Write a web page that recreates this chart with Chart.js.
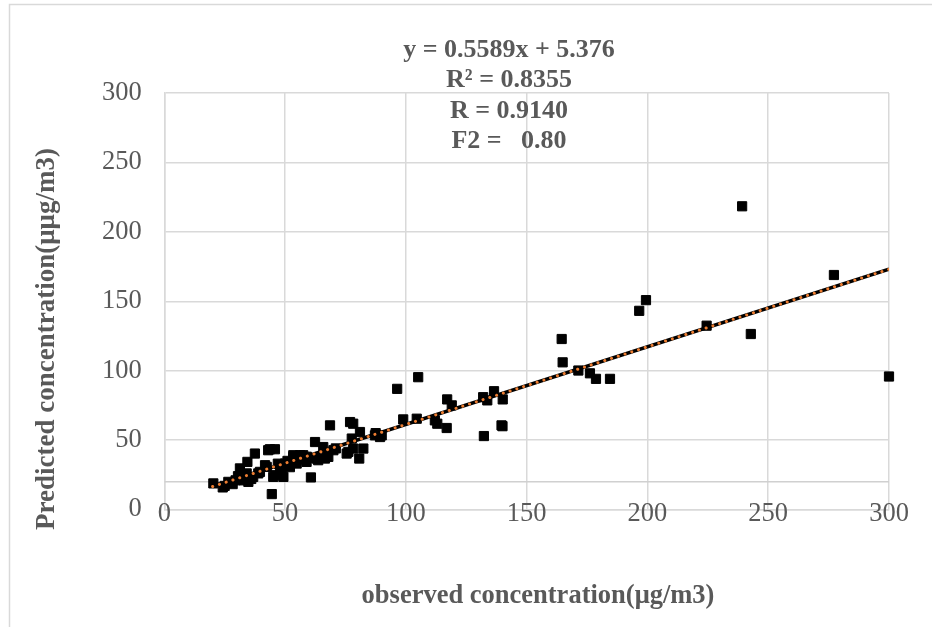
<!DOCTYPE html>
<html>
<head>
<meta charset="utf-8">
<script src="https://cdn.jsdelivr.net/npm/chart.js"></script>
<style>
  html, body { margin: 0; padding: 0; background: #fff; }
  #wrap { width: 932px; height: 627px; }
</style>
</head>
<body>
<div id="wrap"><canvas id="myChart" width="932" height="627"></canvas></div>
<script>
// observed vs predicted values
const observed = [
  20.3, 24.2, 25, 26.5, 28.3, 29.5, 30.5, 31.3, 32, 33,
  34.4, 34.8, 34.1, 36, 36.8, 37.5, 38.9, 39.6, 41.7, 42.4,
  43, 43.7, 44.5, 45.1, 45.8, 45.8, 47, 47.9, 48.6, 49.3,
  50, 51, 52, 53.4, 53.4, 54.8, 55.5, 56.2, 57.5, 58.9,
  59, 60.7, 61.5, 62.4, 63.1, 63.7, 65.8, 66.5, 67.2, 67.9,
  68.6, 70, 71, 75.5, 76.2, 76.9, 78.2, 77.6, 78.2, 80.7,
  81, 82.4, 87.2, 87.5, 89.3, 90, 96.4, 98.9, 104.5, 105.1,
  112, 113, 116.9, 117.1, 119, 132, 132.3, 133.7, 136.5, 139.6,
  140, 140.1, 164.5, 164.9, 171.4, 176.2, 178.7, 184.5, 196.6, 199.4,
  224.5, 239.2, 242.8, 277.2, 300
];
const predicted = [
  18.8, 15.9, 17, 19.9, 18.3, 21, 24, 29.6, 24.7, 21,
  34.3, 19.9, 26, 22, 23.5, 40.3, 26, 27.1, 31.9, 30.7,
  42.7, 43.4, 11.1, 23.5, 24.7, 43.4, 33, 29.6, 28.3, 23.5,
  33.1, 35, 30.5, 39.1, 37.9, 33.1, 36, 39.1, 39.1, 34.3,
  38, 23.1, 37, 48.6, 36.7, 35.5, 45, 36.7, 40.3, 37.9,
  60.6, 42.7, 44, 40.3, 41.5, 63, 61.8, 51.1, 43.9, 36.7,
  55.8, 43.9, 53.4, 55, 52.2, 53.4, 86.9, 64.9, 65.4, 95.3,
  64.2, 61.8, 58.7, 79.3, 75, 80.9, 52.9, 78.6, 85.2, 60.6,
  60, 79.3, 122.8, 106, 100.1, 98.1, 94.1, 94.1, 143.1, 150.8,
  132.4, 218.4, 126.4, 168.9, 95.8
];

const xRange = [0, 300];
const yRange = [0, 300];
const tickStep = 50;
const axisCrossY = 20;

const slope = 0.5589;
const intercept = 5.376;
const trendFrom = 20;
const trendTo = 300;

const statLines = ["y = 0.5589x + 5.376", "R\u00B2 = 0.8355", "R = 0.9140", "F2 =   0.80"];
const xTitle = "observed concentration(\u03BCg/m3)";
const yTitle = "Predicted concentration(\u03BC\u03BCg/m3)";

const ctx = document.getElementById('myChart');

let points = [];
observed.forEach((v, i) => {
  points.push({ x: v, y: predicted[i] });
});

let trend = [
  { x: trendFrom, y: slope * trendFrom + intercept },
  { x: trendTo, y: slope * trendTo + intercept }
];

let crossLine = [
  { x: xRange[0], y: axisCrossY },
  { x: xRange[1], y: axisCrossY }
];

const gridColor = '#d9d9d9';
const textColor = '#595959';
const serif = "'Times New Roman', 'Liberation Serif', serif";

// titles, regression text, x tick labels (they hang below the y=20 axis line) and the frame
const textsPlugin = {
  id: 'texts',
  beforeDraw(chart) {
    const c = chart.ctx;
    c.save();
    c.strokeStyle = gridColor;
    c.lineWidth = 1.5;
    c.beginPath();
    c.moveTo(9.5, 627);
    c.lineTo(9.5, 4.5);
    c.lineTo(932, 4.5);
    c.stroke();
    c.restore();
  },
  afterDraw(chart) {
    const c = chart.ctx;
    const xs = chart.scales.x;
    c.save();
    c.fillStyle = textColor;
    c.textAlign = 'center';

    c.textBaseline = 'middle';
    c.font = '26.5px ' + serif;
    xs.ticks.forEach(t => {
      c.fillText(String(t.value), xs.getPixelForValue(t.value), 514);
    });

    c.textBaseline = 'alphabetic';
    c.font = 'bold 26px ' + serif;
    statLines.forEach((t, i) => {
      c.fillText(t, 509, 57 + i * 30.4);
    });
    c.font = 'bold 26.5px ' + serif;
    c.fillText(xTitle, 538, 603);
    c.font = 'bold 27px ' + serif;
    c.translate(53.5, 339);
    c.rotate(-Math.PI / 2);
    c.fillText(yTitle, 0, 0);
    c.restore();
  }
};

new Chart(ctx, {
  type: 'scatter',
  data: {
    datasets: [
      {
        type: 'line',
        data: trend,
        borderColor: '#ED7D31',
        borderWidth: 3,
        borderDash: [0.1, 7],
        borderCapStyle: 'round',
        pointRadius: 0,
        order: 0
      },
      {
        type: 'line',
        data: trend,
        borderColor: '#000000',
        borderWidth: 3.5,
        pointRadius: 0,
        order: 1
      },
      {
        data: points,
        pointStyle: 'rect',
        pointRadius: 6.5,
        backgroundColor: '#000000',
        borderColor: '#000000',
        borderWidth: 1,
        clip: false,
        order: 2
      },
      {
        type: 'line',
        data: crossLine,
        borderColor: '#d0d0d0',
        borderWidth: 1.5,
        pointRadius: 0,
        order: 3
      }
    ]
  },
  options: {
    responsive: false,
    animation: false,
    layout: {
      padding: { top: 93, right: 43, bottom: 0, left: 0 }
    },
    plugins: {
      legend: { display: false },
      tooltip: { enabled: false }
    },
    scales: {
      x: {
        type: 'linear',
        min: xRange[0],
        max: xRange[1],
        afterFit: (s) => { s.height = 117.5; },
        ticks: {
          stepSize: tickStep,
          display: false
        },
        grid: { color: gridColor, lineWidth: 1.5, drawTicks: false },
        border: { color: gridColor, width: 1.5 }
      },
      y: {
        min: yRange[0],
        max: yRange[1],
        afterFit: (s) => { s.width = 164.3; },
        ticks: {
          stepSize: tickStep,
          color: textColor,
          padding: 22.6,
          font: { family: serif, size: 26.5 }
        },
        grid: { color: gridColor, lineWidth: 1.5, drawTicks: false },
        border: { color: gridColor, width: 1.5 }
      }
    }
  },
  plugins: [textsPlugin]
});
</script>
</body>
</html>
